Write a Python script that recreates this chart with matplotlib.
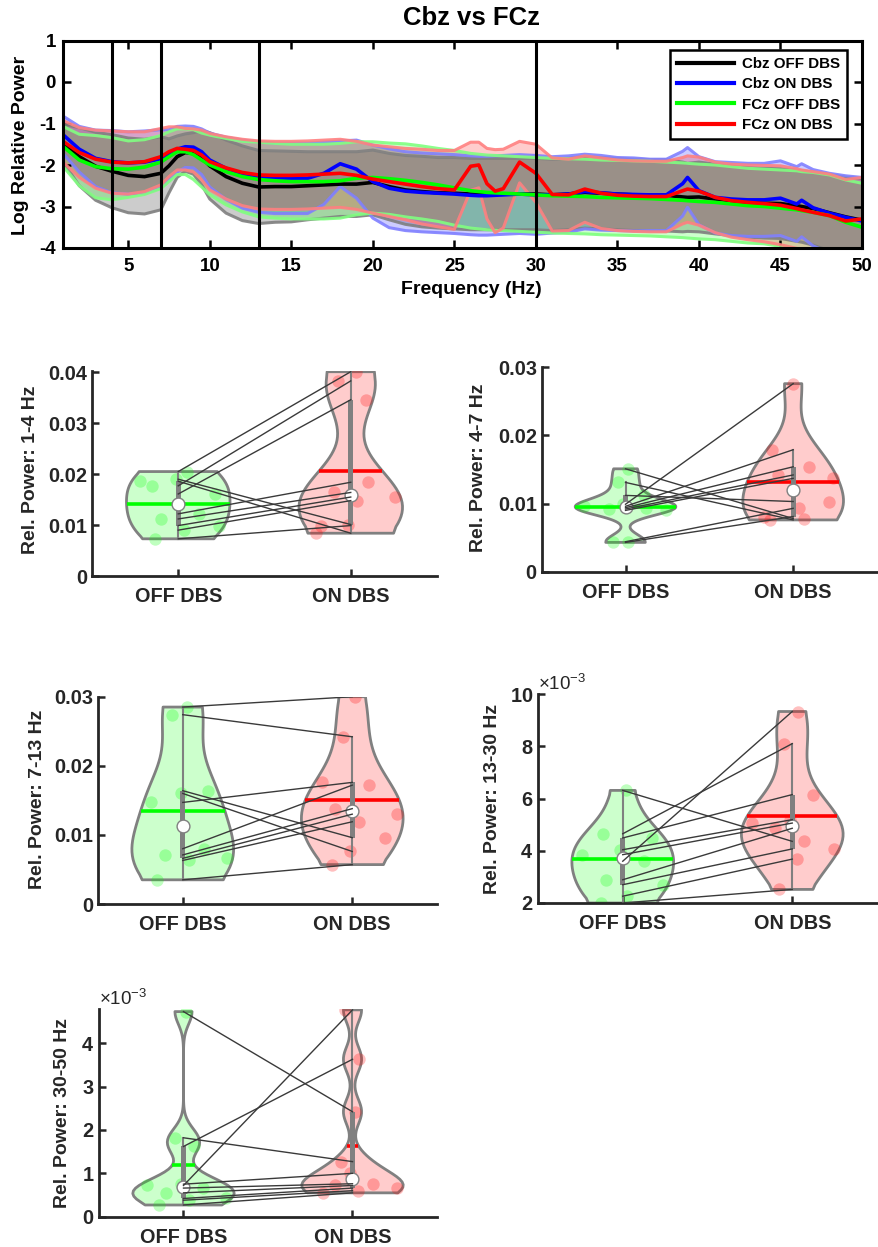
import numpy as np
import matplotlib
matplotlib.use("Agg")
import matplotlib.pyplot as plt
from matplotlib.patches import Rectangle
from matplotlib.ticker import ScalarFormatter

plt.rcParams['font.family'] = ['Liberation Sans', 'DejaVu Sans']
plt.rcParams['font.weight'] = 'bold'
plt.rcParams['axes.labelweight'] = 'bold'
plt.rcParams['axes.unicode_minus'] = False
plt.rcParams['mathtext.default'] = 'regular'

# ---------------- spectrum data (log relative power) ----------------
freq = [1, 2, 3, 4, 5, 6, 7, 7.5, 8, 8.5, 9, 9.5, 10, 11, 12, 13, 14, 15, 16, 17,
        18, 19, 20, 21, 22, 23, 24, 25, 26, 26.5, 27, 27.5, 28, 29, 30, 31, 32, 33,
        34, 35, 36, 37, 38, 39, 39.3, 40, 41, 42, 43, 44, 45, 46, 46.3, 47, 48, 49, 50]

cbz_off_mean = [-1.47, -1.80, -2.03, -2.15, -2.25, -2.28, -2.20, -2.02, -1.80, -1.70,
                -1.72, -1.82, -2.02, -2.28, -2.44, -2.53, -2.52, -2.52, -2.50, -2.48,
                -2.46, -2.46, -2.42, -2.52, -2.60, -2.64, -2.67, -2.68, -2.70, -2.70,
                -2.70, -2.70, -2.70, -2.70, -2.70, -2.72, -2.70, -2.66, -2.68, -2.70,
                -2.72, -2.73, -2.73, -2.77, -2.78, -2.77, -2.82, -2.86, -2.90, -2.92,
                -2.93, -2.98, -3.00, -3.05, -3.15, -3.25, -3.33]
cbz_on_mean = [-1.27, -1.62, -1.84, -1.92, -1.95, -1.93, -1.85, -1.75, -1.62, -1.56,
               -1.57, -1.68, -1.88, -2.08, -2.22, -2.29, -2.32, -2.32, -2.32, -2.20,
               -1.97, -2.10, -2.40, -2.56, -2.63, -2.66, -2.68, -2.70, -2.73, -2.74,
               -2.74, -2.73, -2.72, -2.70, -2.72, -2.72, -2.70, -2.64, -2.67, -2.70,
               -2.71, -2.72, -2.72, -2.45, -2.30, -2.62, -2.78, -2.82, -2.84, -2.84,
               -2.80, -2.94, -2.85, -3.03, -3.16, -3.26, -3.35]
fcz_off_mean = [-1.55, -1.88, -2.04, -2.09, -2.10, -2.05, -1.93, -1.80, -1.68, -1.68,
                -1.75, -1.88, -2.00, -2.16, -2.28, -2.35, -2.38, -2.40, -2.40, -2.40,
                -2.38, -2.32, -2.30, -2.33, -2.37, -2.42, -2.48, -2.55, -2.62, -2.64,
                -2.66, -2.67, -2.68, -2.70, -2.72, -2.74, -2.75, -2.76, -2.78, -2.79,
                -2.80, -2.81, -2.83, -2.85, -2.86, -2.88, -2.90, -2.94, -2.98, -3.00,
                -3.04, -3.08, -3.10, -3.14, -3.22, -3.38, -3.50]
fcz_on_mean = [-1.43, -1.70, -1.86, -1.93, -1.95, -1.92, -1.80, -1.68, -1.60, -1.62,
               -1.65, -1.76, -1.92, -2.07, -2.18, -2.24, -2.25, -2.25, -2.24, -2.22,
               -2.20, -2.25, -2.34, -2.40, -2.46, -2.52, -2.57, -2.60, -2.03, -2.00,
               -2.45, -2.63, -2.57, -1.93, -2.20, -2.71, -2.72, -2.58, -2.68, -2.73,
               -2.75, -2.76, -2.76, -2.62, -2.58, -2.63, -2.78, -2.86, -2.90, -2.93,
               -2.97, -3.05, -3.08, -3.14, -3.22, -3.35, -3.30]

cbz_off_sd = [0.45, 0.70, 0.82, 0.88, 0.90, 0.90, 0.88, 0.65, 0.50, 0.45,
              0.50, 0.65, 0.80, 0.88, 0.90, 0.88, 0.86, 0.85, 0.82, 0.80,
              0.78, 0.78, 0.78, 0.80, 0.83, 0.85, 0.85, 0.86, 0.86, 0.86,
              0.86, 0.86, 0.86, 0.86, 0.86, 0.86, 0.86, 0.86, 0.86, 0.86,
              0.86, 0.86, 0.86, 0.84, 0.82, 0.84, 0.84, 0.84, 0.84, 0.84,
              0.84, 0.86, 0.86, 0.88, 0.92, 0.96, 1.00]
cbz_on_sd = [0.45, 0.55, 0.68, 0.75, 0.75, 0.75, 0.70, 0.60, 0.55, 0.50,
             0.50, 0.55, 0.65, 0.75, 0.82, 0.85, 0.85, 0.85, 0.85, 0.75,
             0.55, 0.70, 0.88, 0.95, 0.95, 0.95, 0.95, 0.95, 0.95, 0.95,
             0.95, 0.95, 0.95, 0.95, 0.95, 0.92, 0.92, 0.90, 0.90, 0.88,
             0.88, 0.86, 0.86, 0.78, 0.72, 0.82, 0.86, 0.88, 0.88, 0.88,
             0.90, 0.90, 0.88, 0.92, 0.96, 1.00, 1.05]
fcz_off_sd = [0.48, 0.62, 0.75, 0.75, 0.68, 0.66, 0.64, 0.60, 0.55, 0.55,
              0.60, 0.65, 0.72, 0.80, 0.85, 0.90, 0.90, 0.90, 0.90, 0.90,
              0.90, 0.88, 0.86, 0.86, 0.88, 0.88, 0.88, 0.90, 0.90, 0.90,
              0.90, 0.90, 0.90, 0.90, 0.90, 0.90, 0.90, 0.90, 0.90, 0.90,
              0.90, 0.90, 0.90, 0.90, 0.90, 0.90, 0.90, 0.90, 0.90, 0.90,
              0.92, 0.94, 0.94, 0.96, 0.98, 1.02, 1.06]
fcz_on_sd = [0.50, 0.60, 0.70, 0.75, 0.75, 0.72, 0.68, 0.60, 0.52, 0.50,
             0.52, 0.60, 0.68, 0.75, 0.80, 0.82, 0.82, 0.82, 0.82, 0.82,
             0.82, 0.82, 0.82, 0.84, 0.86, 0.90, 0.92, 0.95, 0.58, 0.55,
             0.85, 1.00, 0.95, 0.50, 0.70, 0.88, 0.86, 0.80, 0.85, 0.85,
             0.85, 0.85, 0.85, 0.80, 0.80, 0.82, 0.85, 0.88, 0.90, 0.92,
             0.95, 0.96, 0.96, 0.98, 1.00, 1.00, 1.00]

series_labels = ['Cbz OFF DBS', 'Cbz ON DBS', 'FCz OFF DBS', 'FCz ON DBS']
band_edges = [4, 7, 13, 30]

# ---------------- band power data (relative power) ----------------
conditions = ['OFF DBS', 'ON DBS']
delta_off = [0.0205, 0.0177, 0.0161, 0.0190, 0.0186, 0.0122, 0.0112, 0.0099, 0.0090, 0.0073]
delta_on = [0.0401, 0.0383, 0.0346, 0.0101, 0.0084, 0.0184, 0.0164, 0.0155, 0.0148, 0.0099]
theta_off = [0.0151, 0.0131, 0.0112, 0.0099, 0.0096, 0.0094, 0.0092, 0.0090, 0.0044, 0.0043]
theta_on = [0.0078, 0.0076, 0.0103, 0.0276, 0.0179, 0.0154, 0.0142, 0.0137, 0.0093, 0.0081]
alpha_off = [0.0285, 0.0274, 0.0164, 0.0160, 0.0147, 0.0080, 0.0071, 0.0066, 0.0063, 0.0035]
alpha_on = [0.0300, 0.0242, 0.0096, 0.0076, 0.0176, 0.0172, 0.0138, 0.0130, 0.0119, 0.0057]
beta_off = [6.31e-3, 4.65e-3, 4.49e-3, 4.04e-3, 3.85e-3, 3.60e-3, 2.89e-3, 2.70e-3, 2.26e-3, 2.00e-3]
beta_on = [4.36e-3, 8.10e-3, 6.15e-3, 5.19e-3, 5.06e-3, 9.33e-3, 4.86e-3, 4.07e-3, 3.68e-3, 2.52e-3]
gamma_off = [4.73e-3, 1.82e-3, 1.62e-3, 0.75e-3, 0.72e-3, 0.66e-3, 0.55e-3, 0.42e-3, 0.38e-3, 0.27e-3]
gamma_on = [2.42e-3, 1.27e-3, 3.63e-3, 1.00e-3, 4.77e-3, 0.76e-3, 0.72e-3, 0.66e-3, 0.60e-3, 0.55e-3]
band_labels = ['Rel. Power: 1-4 Hz', 'Rel. Power: 4-7 Hz', 'Rel. Power: 7-13 Hz',
               'Rel. Power: 13-30 Hz', 'Rel. Power: 30-50 Hz']

W, H = 879, 1247
fig = plt.figure(figsize=(W / 100, H / 100), dpi=100)
AXC = '#262626'


def px_rect(left, top, right, bottom):
    return [left / W, 1 - bottom / H, (right - left) / W, (bottom - top) / H]


# ---------------- top spectrum ----------------
ax = fig.add_axes(px_rect(63, 40.5, 862, 248))
f = np.array(freq)
means = [cbz_off_mean, cbz_on_mean, fcz_off_mean, fcz_on_mean]
sds = [cbz_off_sd, cbz_on_sd, fcz_off_sd, fcz_on_sd]
cols = [np.array([0, 0, 0.0]), np.array([0, 0, 1.0]), np.array([0, 1, 0.0]), np.array([1, 0, 0.0])]
for m, s, c in zip(means, sds, cols):
    m = np.array(m); s = np.array(s)
    ax.fill_between(f, m - s, m + s, color=c, alpha=0.2, linewidth=0, zorder=1)
    edge = c + (1 - c) * 0.5
    ax.plot(f, m - s, color=edge, lw=2.2, alpha=0.9, zorder=2, solid_capstyle='round')
    ax.plot(f, m + s, color=edge, lw=2.2, alpha=0.9, zorder=2, solid_capstyle='round')
handles = []
for m, c, lab in zip(means, cols, series_labels):
    h, = ax.plot(f, m, color=c, lw=2.6, zorder=3, label=lab)
    handles.append(h)
for be in band_edges:
    ax.axvline(be, color='k', lw=2.2, zorder=5)
ax.set_xlim(1, 50)
ax.set_ylim(-4, 1)
ax.set_xticks(range(5, 51, 5))
ax.set_yticks(range(-4, 2))
ax.tick_params(direction='in', top=True, right=True, length=6, width=1.8,
               labelsize=13.5, pad=5, colors='k')
ax.tick_params(axis='x', pad=7)
for sp in ax.spines.values():
    sp.set_linewidth(2.2)
    sp.set_zorder(6)
leg = ax.legend(handles=handles, loc='upper right', bbox_to_anchor=(0.981, 0.954),
                borderaxespad=0, fontsize=10.9, frameon=True, fancybox=False,
                framealpha=1, edgecolor='k', handlelength=3.8, labelspacing=0.42,
                borderpad=0.45, handletextpad=0.5)
leg.get_frame().set_linewidth(1.8)
for lh in leg.get_lines():
    lh.set_linewidth(3)
leg.set_zorder(10)
fig.text(471 / W, 1 - 18 / H, 'Cbz vs FCz', ha='center', va='center', fontsize=18.5,
         fontweight='bold')
fig.text(471 / W, 1 - 290 / H, 'Frequency (Hz)', ha='center', va='center', fontsize=14,
         fontweight='bold')
fig.text(20.5 / W, 1 - 145 / H, 'Log Relative Power', ha='center', va='center',
         fontsize=14, fontweight='bold', rotation=90)


# ---------------- violin panels ----------------
def violin(ax, pos, data, color):
    data = np.asarray(data, dtype=float)
    n = len(data)
    med = np.median(data)
    sig = np.median(np.abs(data - med)) / 0.6745
    if sig <= 0:
        sig = data.max() - data.min()
    bw = sig * (4 / (3 * n)) ** 0.2
    grid = np.linspace(data.min() - 3 * bw, data.max() + 3 * bw, 100)
    dens = np.exp(-0.5 * ((grid[:, None] - data[None, :]) / bw) ** 2).sum(1) / (n * bw * np.sqrt(2 * np.pi))
    keep = (grid >= data.min()) & (grid <= data.max())
    val = grid[keep].copy()
    d = dens[keep]
    val[0] = data.min()
    val[-1] = data.max()
    w = 0.3 * d / d.max()
    c = np.array(color, dtype=float)
    face = 1 - (1 - c) * 0.2
    ax.fill(np.r_[pos + w, (pos - w)[::-1]], np.r_[val, val[::-1]], facecolor=face,
            edgecolor='#808080', lw=2.0, zorder=1, joinstyle='round')
    # scattered points (deterministic spread inside the violin)
    k = np.arange(1, n + 1)
    jit = ((k * 0.6180339887) % 1.0) * 2 - 1
    strength = np.interp(data, val, w)
    ax.scatter(pos + jit * strength, data, s=80, color=c, alpha=0.25, linewidths=0, zorder=2)
    # mean
    mu = data.mean()
    mw = np.interp(mu, val, w)
    ax.plot([pos - mw, pos + mw], [mu, mu], color=c, lw=2.6, zorder=3, solid_capstyle='butt')
    # box and whiskers
    q1, q2, q3 = np.quantile(data, [0.25, 0.5, 0.75], method='hazen')
    iqr = q3 - q1
    lo = q1 - 1.5 * iqr
    lo = max(lo, data[data > lo].min())
    hi = q3 + 1.5 * iqr
    hi = min(hi, data[data < hi].max())
    ax.plot([pos, pos], [lo, hi], color='#808080', lw=1.5, zorder=4)
    ax.add_patch(Rectangle((pos - 0.015, q1), 0.03, iqr, facecolor='#808080',
                           edgecolor='none', zorder=4))
    ax.scatter([pos], [q2], s=85, facecolor='white', edgecolor='#808080', linewidths=1.0,
               zorder=5)


panels = [
    (delta_off, delta_on, px_rect(92, 370.7, 437, 576), (0, 0.0403),
     [0, 0.01, 0.02, 0.03, 0.04], False, (30.5, 470)),
    (theta_off, theta_on, px_rect(541.7, 367.3, 877, 571.7), (0, 0.03),
     [0, 0.01, 0.02, 0.03], False, (479, 468)),
    (alpha_off, alpha_on, px_rect(98, 696.7, 437, 904), (0, 0.03),
     [0, 0.01, 0.02, 0.03], False, (37.5, 799)),
    (beta_off, beta_on, px_rect(538, 694, 877, 903), (0.002, 0.010),
     [0.002, 0.004, 0.006, 0.008, 0.010], True, (492.5, 799)),
    (gamma_off, gamma_on, px_rect(99, 1009, 437, 1216.7), (0, 0.00479),
     [0, 0.001, 0.002, 0.003, 0.004], True, (62.5, 1112.5)),
]

for (off, on, rect, ylim, yt, sci, lab_xy), ylab in zip(panels, band_labels):
    a = fig.add_axes(rect)
    violin(a, 1, off, (0, 1, 0))
    violin(a, 2, on, (1, 0, 0))
    for o, p in zip(off, on):
        a.plot([1, 2], [o, p], color='#3a3a3a', lw=1.0, zorder=6)
    a.set_xlim(0.5, 2.5)
    a.set_ylim(*ylim)
    a.set_yticks(yt)
    a.set_xticks([1, 2])
    a.set_xticklabels(conditions)
    if sci:
        fmt = ScalarFormatter(useMathText=True)
        fmt.set_powerlimits((-3, -3))
        a.yaxis.set_major_formatter(fmt)
        ot = a.yaxis.get_offset_text()
        ot.set_fontsize(13.5)
        ot.set_fontweight('normal')
        ot.set_color(AXC)
    else:
        a.set_yticklabels([('%g' % v) for v in yt])
    a.tick_params(direction='in', length=5, width=1.8, labelsize=14.3, colors=AXC)
    a.tick_params(axis='y', pad=3.5)
    a.tick_params(axis='x', pad=8)
    for s in ['top', 'right']:
        a.spines[s].set_visible(False)
    for s in ['left', 'bottom']:
        a.spines[s].set_linewidth(2.0)
        a.spines[s].set_color(AXC)
    fig.text(lab_xy[0] / W, 1 - lab_xy[1] / H, ylab, ha='center', va='center',
             fontsize=14, fontweight='bold', rotation=90, color=AXC)

fig.savefig('out.png', dpi=100)
